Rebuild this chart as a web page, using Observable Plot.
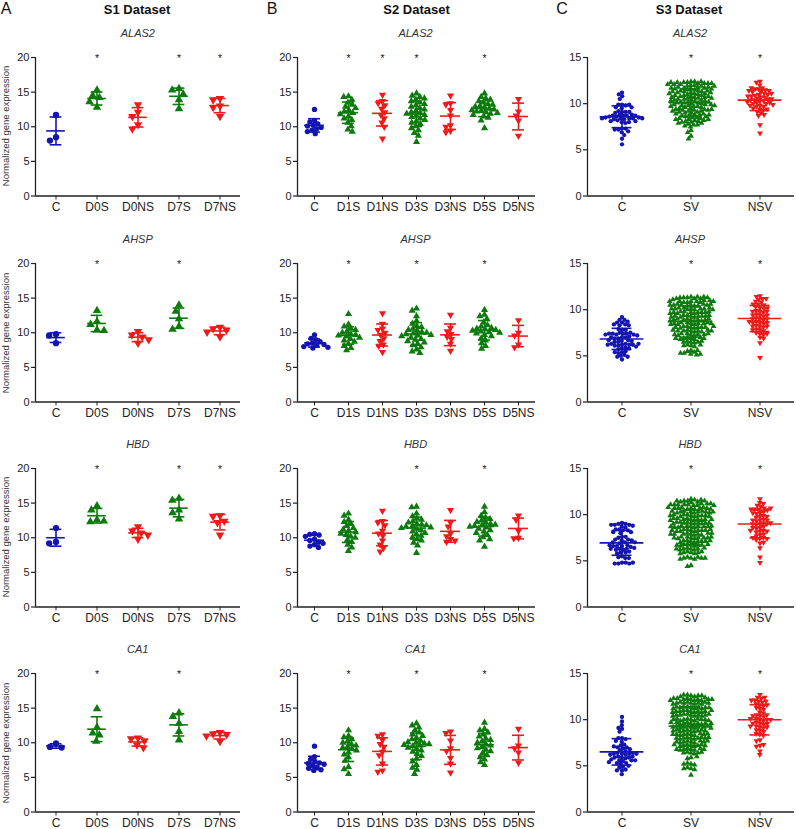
<!DOCTYPE html>
<html><head><meta charset="utf-8">
<script src="https://cdn.jsdelivr.net/npm/d3@7"></script>
<script src="https://cdn.jsdelivr.net/npm/@observablehq/plot@0.6"></script>
<style>
body{margin:0;background:#fff;font-family:"Liberation Sans",Arial,Helvetica,sans-serif;}
#root{position:relative;width:796px;height:829px;overflow:hidden;background:#fff;}
.lbl{position:absolute;white-space:nowrap;line-height:1;color:#222;}
.panel{position:absolute;}
</style></head><body><div id="root"></div>
<script>
// ---------- categories / labels ----------
const GROUPS_S1 = ["C","D0S","D0NS","D7S","D7NS"];
const GROUPS_S2 = ["C","D1S","D1NS","D3S","D3NS","D5S","D5NS"];
const GROUPS_S3 = ["C","SV","NSV"];
const GENES = ["ALAS2","AHSP","HBD","CA1"];
const DATASETS = ["S1 Dataset","S2 Dataset","S3 Dataset"];
const PANEL_LETTERS = ["A","B","C"];
const Y_LABEL = "Normalized gene expression";
const Y_TICKS_S12 = [0,5,10,15,20];
const Y_TICKS_S3 = [0,5,10,15];

// ---------- S1 values (per group) ----------
const S1_ALAS2 = [[11.7,8.5,8.0],[15.3,14.5,14.2,13.6,12.8],[13.2,12.1,11.5,10.3,9.7],[15.5,15.3,14.7,13.9,12.6],[14.1,13.9,13.0,12.8,11.5]];
const S1_AHSP  = [[9.8,9.6,8.5],[13.2,11.6,11.2,10.4,10.3],[10.2,9.7,9.4,9.0,8.5],[14.0,13.1,12.0,10.9,10.5],[10.8,10.6,10.4,10.1,9.4]];
const S1_HBD   = [[11.4,9.4,9.2],[14.6,14.0,12.6,12.3,12.4],[11.6,11.0,10.7,10.4,9.8],[15.7,15.4,14.0,13.6,12.7],[13.2,13.1,12.4,12.2,10.4]];
const S1_CA1   = [[9.9,9.4,9.3],[14.9,12.2,11.4,11.1,10.2],[10.7,10.6,10.3,9.7,9.3],[14.3,13.8,12.8,11.6,10.4],[11.5,11.3,11.2,11.0,10.2]];

// ---------- S2 values (per group) ----------
const S2_ALAS2 = [
 [12.5,10.9,10.7,10.4,10.2,10.1,9.9,9.7,9.5,9.3,9.0],
 [14.4,14.3,13.9,13.5,13.2,12.9,12.7,12.4,12.2,12.0,11.8,11.5,11.2,11.0,10.6,10.1,9.6,9.3],
 [14.6,13.7,13.4,13.1,12.6,12.1,11.7,11.2,10.6,10.0,8.3],
 [14.8,14.5,14.3,14.1,13.9,13.7,13.5,13.3,13.1,12.9,12.7,12.5,12.3,12.1,12.0,11.9,11.7,11.6,11.4,11.2,11.0,10.8,10.6,10.4,10.1,9.8,9.5,9.1,8.7,7.8],
 [14.5,13.4,13.2,12.4,11.6,10.2,10.0,9.4,9.2],
 [14.8,14.3,14.1,13.9,13.7,13.5,13.3,13.2,13.0,12.9,12.8,12.6,12.5,12.4,12.3,12.2,12.1,12.0,11.9,11.7,11.5,11.3,10.9,9.8],
 [14.0,12.2,11.6,10.9,8.7]];
const S2_AHSP = [
 [9.7,9.2,9.0,8.7,8.5,8.4,8.3,8.2,8.0,7.9,7.8],
 [12.7,11.2,10.9,10.6,10.4,10.2,10.0,9.8,9.7,9.6,9.5,9.3,9.1,8.9,8.7,8.4,8.1,7.8,7.5],
 [12.8,11.3,10.6,10.4,10.0,9.7,9.2,8.8,8.3,8.1,7.2],
 [13.5,13.2,12.4,11.7,11.3,11.0,10.8,10.6,10.4,10.3,10.1,10.0,9.9,9.8,9.7,9.6,9.5,9.3,9.1,9.0,8.8,8.6,8.4,8.2,7.9,7.6,7.3,7.1],
 [12.6,10.7,10.2,9.8,9.4,9.1,8.4,7.4],
 [13.3,12.6,12.4,12.0,11.5,11.1,10.9,10.7,10.6,10.5,10.4,10.3,10.2,10.1,10.0,9.9,9.7,9.5,9.2,8.9,8.5,8.1,7.7],
 [11.8,10.0,9.6,8.3,7.9]];
const S2_HBD = [
 [10.6,10.5,10.4,10.2,9.8,9.6,9.4,9.2,9.0,8.8,8.6],
 [13.5,13.2,12.6,12.3,12.0,11.7,11.4,11.2,11.0,10.8,10.6,10.4,10.2,10.0,9.7,9.4,9.0,8.6,8.1],
 [13.9,12.4,12.2,11.8,11.0,10.6,10.3,9.6,9.0,8.5,8.0],
 [14.5,14.4,13.5,13.1,12.8,12.6,12.4,12.2,12.0,11.9,11.8,11.7,11.6,11.5,11.4,11.3,11.1,10.9,10.7,10.5,10.3,10.1,9.8,9.6,9.3,8.9,7.8],
 [14.0,12.2,11.6,10.6,10.2,9.8,9.6,9.4],
 [14.5,13.7,13.2,12.9,12.7,12.5,12.3,12.2,12.0,11.9,11.8,11.7,11.6,11.5,11.3,11.1,10.9,10.7,10.4,10.1,9.8,9.6,8.7],
 [13.2,12.6,11.0,10.0,9.9]];
const S2_CA1 = [
 [9.5,8.0,7.6,7.3,7.1,7.0,6.9,6.7,6.5,6.3,6.1,6.0],
 [11.8,11.0,10.8,10.5,10.2,10.0,9.8,9.6,9.4,9.3,9.1,8.9,8.6,8.3,7.9,7.4,6.5,6.2,5.5],
 [11.2,11.0,10.4,9.8,9.4,8.7,8.2,7.0,6.0,5.8],
 [12.8,12.5,12.2,11.8,11.5,11.2,11.0,10.7,10.5,10.3,10.1,10.0,9.9,9.8,9.7,9.6,9.5,9.3,9.1,8.9,8.7,8.4,8.1,7.7,7.3,6.8,6.4,6.1,5.5],
 [11.6,11.4,10.3,9.2,8.8,7.8,7.0,5.7],
 [12.9,12.0,11.8,11.5,11.2,10.9,10.6,10.4,10.2,10.0,9.8,9.6,9.4,9.2,9.0,8.8,8.5,8.2,7.9,7.6,7.2,6.8],
 [12.0,9.6,9.2,8.6,7.1]];

// ---------- S3 values (per group) ----------
const S3_ALAS2 = [
 [11.2,11.0,10.8,10.5,9.9,9.9,9.8,9.9,9.6,9.6,9.5,9.1,9.2,9.1,9.0,9.1,8.8,8.7,8.7,8.6,8.8,8.7,8.6,8.7,8.4,8.5,8.4,8.3,8.4,8.5,8.3,8.4,8.2,8.4,8.1,8.0,8.1,7.9,8.0,7.3,7.2,7.3,7.2,7.0,6.9,6.6,6.2,5.6],
 [12.4,12.3,12.4,12.2,12.3,12.1,12.4,12.2,12.3,12.0,12.2,12.1,12.3,12.0,12.2,12.1,
  11.9,11.8,11.7,11.9,11.6,11.8,11.5,11.7,11.9,11.6,11.8,11.5,11.7,11.6,
  11.4,11.3,11.2,11.1,11.4,11.0,11.3,11.2,11.1,11.4,11.0,11.3,11.2,11.1,
  10.9,10.8,10.7,10.6,10.9,10.5,10.8,10.7,10.6,10.9,10.5,10.8,10.7,10.6,
  10.4,10.3,10.2,10.1,10.0,10.4,10.3,10.2,10.1,10.0,10.4,10.2,10.3,10.1,
  9.9,9.8,9.7,9.6,9.5,9.9,9.8,9.7,9.6,9.5,9.9,9.7,9.8,
  9.4,9.3,9.2,9.1,9.0,9.4,9.3,9.2,9.1,9.0,9.3,9.2,9.4,
  8.9,8.8,8.7,8.6,8.5,8.9,8.8,8.7,8.6,8.5,8.8,
  8.4,8.3,8.2,8.1,8.0,8.4,8.3,8.2,8.1,8.0,8.3,
  7.9,7.8,7.7,7.6,7.5,7.9,7.7,
  7.1,6.9,6.5,6.2],
 [12.4,12.3,12.0,11.7,11.6,11.6,11.5,11.7,11.4,11.3,11.4,11.3,11.0,11.1,10.9,11.0,11.1,10.7,10.8,10.6,10.7,10.8,10.4,10.5,10.3,10.4,10.5,10.3,10.1,10.0,10.2,10.1,10.0,9.8,9.7,9.8,9.9,9.7,9.4,9.5,9.3,9.4,9.1,9.0,8.8,8.7,7.7,6.8]];
const S3_AHSP = [
 [9.2,8.9,8.9,8.7,8.6,8.6,8.4,8.3,8.4,8.3,7.8,7.9,7.8,7.5,7.4,7.4,7.3,7.5,7.4,7.3,7.4,7.2,7.3,7.0,7.1,6.9,7.0,6.9,7.0,6.7,6.6,6.5,6.6,6.7,6.5,6.2,6.3,6.1,6.2,6.3,6.2,6.1,6.2,6.0,6.3,5.8,5.9,5.7,5.8,5.4,5.5,5.3,5.4,5.1,5.0,4.9,4.9,4.6],
 [11.4,11.3,11.2,11.4,11.3,11.2,11.3,11.4,11.2,11.3,11.1,
  10.9,10.8,11.0,10.9,10.8,10.9,11.0,10.8,10.9,10.9,
  10.5,10.6,10.4,10.5,10.6,10.5,10.4,10.5,10.6,10.5,10.4,
  10.1,10.2,10.0,10.1,10.2,10.1,10.0,10.1,10.2,10.1,10.0,
  9.7,9.8,9.6,9.7,9.8,9.7,9.6,9.7,9.8,9.7,9.6,
  9.3,9.4,9.2,9.3,9.4,9.3,9.2,9.3,9.4,9.3,9.2,
  8.9,9.0,8.8,8.9,9.0,8.9,8.8,8.9,9.0,8.9,8.8,
  8.5,8.6,8.4,8.5,8.6,8.5,8.4,8.5,8.6,8.5,8.4,
  8.1,8.2,8.0,8.1,8.2,8.1,8.0,8.1,8.2,8.1,
  7.7,7.8,7.6,7.7,7.8,7.7,7.6,7.7,7.8,7.7,
  7.3,7.4,7.2,7.3,7.4,7.3,7.2,7.3,7.4,
  6.9,7.0,6.8,6.9,7.0,6.9,6.8,6.9,
  6.5,6.6,6.4,6.5,6.6,6.5,
  6.1,6.2,6.0,6.1,6.2,
  5.6,5.5,5.4,5.6,
  5.2,5.3,5.1,5.2,5.3],
 [11.5,11.4,11.2,11.1,11.2,10.9,10.8,10.6,10.5,10.6,10.2,10.3,10.1,10.2,9.8,9.9,9.7,9.8,9.8,9.4,9.5,9.3,9.4,9.4,9.0,9.1,8.9,9.0,9.0,8.6,8.7,8.5,8.6,8.6,8.7,8.2,8.3,8.1,8.2,8.2,7.8,7.9,7.7,7.8,7.4,7.5,7.3,7.4,7.0,6.9,6.4,4.8]];
const S3_HBD = [
 [9.1,9.0,9.0,8.9,8.9,8.8,8.9,8.7,8.6,8.4,8.3,8.4,8.3,8.1,8.0,8.1,7.6,7.5,7.6,7.3,7.2,7.3,7.2,7.0,6.9,7.0,7.0,6.6,6.7,6.6,6.5,6.6,6.7,6.3,6.2,6.3,6.4,6.2,6.3,5.9,6.0,5.9,5.8,5.5,5.4,5.3,5.3,4.8,4.7,4.8,4.7,4.7,4.8],
 [11.7,11.5,11.6,11.4,11.5,11.6,11.4,11.5,11.3,11.5,
  11.1,11.2,11.0,11.1,11.2,11.1,11.0,11.1,11.2,11.1,11.0,
  10.7,10.8,10.6,10.7,10.8,10.7,10.6,10.7,10.8,10.7,10.6,
  10.3,10.4,10.2,10.3,10.4,10.3,10.2,10.3,10.4,10.3,10.2,
  9.9,10.0,9.8,9.9,10.0,9.9,9.8,9.9,10.0,9.9,9.8,
  9.5,9.6,9.4,9.5,9.6,9.5,9.4,9.5,9.6,9.5,9.4,
  9.1,9.2,9.0,9.1,9.2,9.1,9.0,9.1,9.2,9.1,9.0,
  8.7,8.8,8.6,8.7,8.8,8.7,8.6,8.7,8.8,8.7,8.6,
  8.3,8.4,8.2,8.3,8.4,8.3,8.2,8.3,8.4,8.3,8.2,
  7.9,8.0,7.8,7.9,8.0,7.9,7.8,7.9,8.0,7.9,
  7.5,7.6,7.4,7.5,7.6,7.5,7.4,7.5,7.6,7.5,
  7.1,7.2,7.0,7.1,7.2,7.1,7.0,7.1,7.2,
  6.7,6.8,6.6,6.7,6.8,6.7,6.6,6.7,6.8,
  6.3,6.4,6.2,6.3,6.4,6.3,6.2,6.3,
  5.9,6.0,5.8,5.9,6.0,5.9,5.8,
  5.3,5.4,5.2,5.3,5.4,5.3,5.2,5.3,
  4.5,4.4],
 [11.7,11.3,11.2,11.0,10.9,10.6,10.7,10.6,10.5,10.6,10.7,10.2,10.3,10.1,10.2,9.8,9.9,9.7,9.8,9.4,9.5,9.3,9.4,9.4,9.0,9.1,8.9,9.0,9.0,9.1,8.6,8.7,8.5,8.6,8.2,8.3,8.1,8.2,8.3,7.8,7.9,7.7,7.4,7.5,7.3,7.4,7.5,6.9,7.0,6.4,5.4,4.8]];
const S3_CA1 = [
 [10.3,9.8,9.4,9.0,9.1,8.7,8.0,8.0,7.9,7.7,7.6,7.3,7.2,7.0,7.0,6.9,7.1,6.7,6.8,6.6,6.3,6.4,6.2,6.3,6.3,6.4,6.2,6.3,5.9,6.0,5.8,5.9,6.0,5.9,5.6,5.7,5.5,5.6,5.6,5.3,5.2,5.3,5.4,4.9,5.0,4.8,4.5,4.6,4.5,4.1],
 [12.6,12.7,12.5,12.6,12.7,12.5,12.6,12.4,
  12.2,12.3,12.1,12.2,12.3,12.2,12.1,12.2,12.3,12.2,12.1,
  11.8,11.9,11.7,11.8,11.9,11.8,11.7,11.8,11.9,11.8,11.7,
  11.3,11.4,11.2,11.3,11.4,11.3,11.2,11.3,11.4,11.3,11.2,
  10.9,11.0,10.8,10.9,11.0,10.9,10.8,10.9,11.0,10.9,10.8,
  10.5,10.6,10.4,10.5,10.6,10.5,10.4,10.5,10.6,10.5,10.4,
  10.0,10.1,9.9,10.0,10.1,10.0,9.9,10.0,10.1,10.0,9.9,
  9.6,9.7,9.5,9.6,9.7,9.6,9.5,9.6,9.7,9.6,9.5,
  9.2,9.3,9.1,9.2,9.3,9.2,9.1,9.2,9.3,9.2,9.1,
  8.8,8.9,8.7,8.8,8.9,8.8,8.7,8.8,8.9,8.8,
  8.4,8.5,8.3,8.4,8.5,8.4,8.3,8.4,8.5,8.4,
  8.0,8.1,7.9,8.0,8.1,8.0,7.9,8.0,8.1,8.0,
  7.6,7.7,7.5,7.6,7.7,7.6,7.5,7.6,7.7,
  7.2,7.3,7.1,7.2,7.3,7.2,7.1,7.2,7.3,
  6.8,6.9,6.7,6.8,6.9,6.8,6.7,6.8,
  6.4,6.5,6.3,6.4,6.5,6.4,
  5.9,5.8,6.0,
  5.2,5.3,5.1,5.2,
  4.7,4.8,4.6,4.7,
  4.0],
 [12.7,12.4,12.3,12.4,12.0,12.1,11.9,12.0,12.1,11.6,11.7,11.5,11.6,11.2,11.3,11.1,10.8,10.7,10.4,10.5,10.3,10.4,10.5,10.0,10.1,9.9,10.0,10.1,10.0,9.6,9.7,9.5,9.6,9.6,9.2,9.3,9.1,9.2,9.3,8.8,8.9,8.7,8.4,8.5,8.3,7.8,7.7,7.2,7.3,7.1,6.6,6.2]];

// ---------- significance markers ----------
const STARS_S1 = [["D0S","D7S","D7NS"],["D0S","D7S"],["D0S","D7S","D7NS"],["D0S","D7S"]];
const STARS_S2 = [["D1S","D1NS","D3S","D5S"],["D1S","D3S","D5S"],["D3S","D5S"],["D1S","D3S","D5S"]];
const STARS_S3 = [["SV","NSV"],["SV","NSV"],["SV","NSV"],["SV","NSV"]];

// ---------- styling / layout ----------
const COLORS = ["#1414b0","#0c7a0c","#ee1a1a"];
const TRI_DOWN = {
  draw(context, size) {
    const s3 = Math.sqrt(3);
    const y = -Math.sqrt(size / (s3 * 3));
    context.moveTo(0, -y * 2);
    context.lineTo(-s3 * y, y);
    context.lineTo(s3 * y, y);
    context.closePath();
  }
};
// symbols drawn k times larger than the collision radius used by the dodge layout
const scaled = (sym, k) => ({draw(ctx, size) { sym.draw(ctx, size * k * k); }});
const BASE_SYMBOLS = [d3.symbolCircle, d3.symbolTriangle, TRI_DOWN];
const kindOf = g => g === "C" ? 0 : (g.includes("NS") ? 2 : 1);

const COLS = [
  {groups: GROUPS_S1, data: [S1_ALAS2,S1_AHSP,S1_HBD,S1_CA1], stars: STARS_S1, yMax: 20, yTicks: Y_TICKS_S12,
   axisX: 33.3, frameW: 209, r: 3.0, k: 1.05, pad: 0.3, meanHalf: 9.5, capHalf: 6, titleX: 137, letterX: 6},
  {groups: GROUPS_S2, data: [S2_ALAS2,S2_AHSP,S2_HBD,S2_CA1], stars: STARS_S2, yMax: 20, yTicks: Y_TICKS_S12,
   axisX: 296, frameW: 239, r: 1.9, k: 1.4, pad: 0, meanHalf: 10, capHalf: 6, titleX: 416.5, letterX: 272},
  {groups: GROUPS_S3, data: [S3_ALAS2,S3_AHSP,S3_HBD,S3_CA1], stars: STARS_S3, yMax: 15, yTicks: Y_TICKS_S3,
   axisX: 586, frameW: 208, r: 1.35, k: 1.6, pad: 0, meanHalf: 22, capHalf: 10, titleX: 689, letterX: 562}
];
const ROW_TOP = [56.7, 263.3, 467.7, 673.3];
const FRAME_H = 138.5;
const M = {left: 30, right: 2, top: 12, bottom: 24};

const root = document.getElementById("root");
function addLabel(text, x, y, css, rotate) {
  const d = document.createElement("div");
  d.className = "lbl";
  d.textContent = text;
  d.style.left = x + "px";
  d.style.top = y + "px";
  d.style.transform = "translate(-50%,-50%)" + (rotate ? " rotate(-90deg)" : "");
  Object.assign(d.style, css);
  root.appendChild(d);
}

function makePanel(col, rowIdx) {
  const groups = col.groups;
  const values = col.data[rowIdx];
  const half = col.frameW / groups.length / 2;
  const points = [];
  groups.forEach((g, i) => values[i].forEach(v => points.push({g, v})));
  const stats = groups.map((g, i) => {
    const m = d3.mean(values[i]), s = d3.deviation(values[i]);
    return {g, mean: m, lo: m - s, hi: m + s, color: COLORS[kindOf(g)]};
  });
  const marks = [
    Plot.ruleY([0], {stroke: "#222", strokeWidth: 1.3}),
    Plot.ruleX([groups[0]], {fx: d => d, x: -half, stroke: "#222", strokeWidth: 1.3})
  ];
  groups.forEach(g => {
    const k = kindOf(g);
    marks.push(Plot.dot(points.filter(p => p.g === g), Plot.dodgeX("middle", {
      fx: "g", y: "v", r: col.r, padding: col.pad, fill: COLORS[k], symbol: scaled(BASE_SYMBOLS[k], col.k)
    })));
  });
  const sw = 1.6;
  marks.push(
    Plot.ruleY(stats, {fx: "g", y: "mean", x1: -col.meanHalf, x2: col.meanHalf, stroke: "color", strokeWidth: sw}),
    Plot.ruleY(stats, {fx: "g", y: "hi", x1: -col.capHalf, x2: col.capHalf, stroke: "color", strokeWidth: sw}),
    Plot.ruleY(stats, {fx: "g", y: "lo", x1: -col.capHalf, x2: col.capHalf, stroke: "color", strokeWidth: sw}),
    Plot.ruleX(stats, {fx: "g", x: 0, y1: "lo", y2: "hi", stroke: "color", strokeWidth: sw}),
    Plot.text(col.stars[rowIdx], {fx: d => d, x: 0, y: col.yMax, text: () => "*", fontSize: 10.5, fill: "#222", dy: 1.5}),
    Plot.axisY({ticks: col.yTicks, tickSize: 4, tickPadding: 2, fontSize: 11, label: null, strokeWidth: 1.2}),
    Plot.axisFx({anchor: "bottom", tickSize: 4, tickPadding: 2, fontSize: 12, label: null})
  );
  const svg = Plot.plot({
    width: M.left + col.frameW + M.right,
    height: M.top + FRAME_H + M.bottom,
    marginLeft: M.left, marginRight: M.right, marginTop: M.top, marginBottom: M.bottom,
    fx: {domain: groups, padding: 0},
    x: {domain: [-half, half], axis: null},
    y: {domain: [0, col.yMax]},
    color: {type: "identity"},
    style: {fontFamily: "'Liberation Sans', Arial, sans-serif", color: "#222", background: "transparent", overflow: "visible"},
    marks
  });
  const wrap = document.createElement("div");
  wrap.className = "panel";
  wrap.style.left = (col.axisX - M.left) + "px";
  wrap.style.top = (ROW_TOP[rowIdx] - M.top) + "px";
  wrap.appendChild(svg);
  root.appendChild(wrap);
  addLabel(GENES[rowIdx], col.axisX + col.frameW / 2, ROW_TOP[rowIdx] - 24,
    {fontSize: "11px", fontStyle: "italic", color: "#333"});
}

COLS.forEach((col, c) => {
  addLabel(PANEL_LETTERS[c], col.letterX, 9, {fontSize: "16px", color: "#111"});
  addLabel(DATASETS[c], col.titleX, 9, {fontSize: "13px", fontWeight: "bold", color: "#111"});
  for (let r = 0; r < 4; r++) makePanel(col, r);
});
for (let r = 0; r < 4; r++) {
  addLabel(Y_LABEL, 6, ROW_TOP[r] + FRAME_H / 2, {fontSize: "9.5px", color: "#333"}, true);
}
</script></body></html>
